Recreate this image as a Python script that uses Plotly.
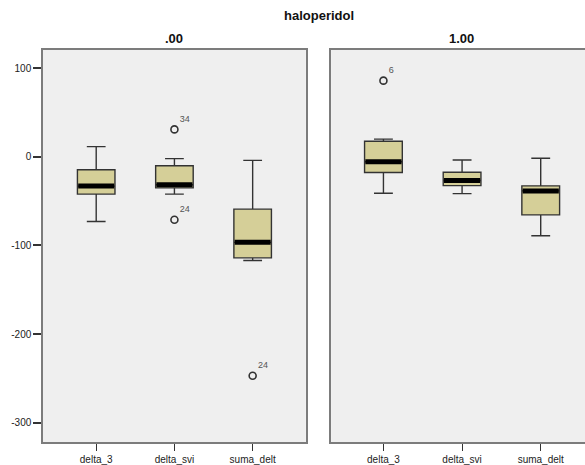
import plotly.graph_objects as go

# ---- data ----
categories = ["delta_3", "delta_svi", "suma_delt"]
panel_titles = [".00", "1.00"]
main_title = "haloperidol"

# haloperidol = .00
p0_lower = [-73, -42, -117]
p0_q1 = [-42, -35, -114]
p0_median = [-33, -31.5, -96.5]
p0_q3 = [-14.5, -10, -59]
p0_upper = [11.5, -2, -4]
p0_out_cat = [1, 1, 2]
p0_out_val = [31, -71, -247]
p0_out_lab = ["34", "24", "24"]

# haloperidol = 1.00
p1_lower = [-41, -41.5, -89]
p1_q1 = [-17.7, -32.5, -65.5]
p1_median = [-5.6, -26.7, -38.4]
p1_q3 = [17.7, -17.3, -32.7]
p1_upper = [20, -3.5, -1.5]
p1_out_cat = [0]
p1_out_val = [86]
p1_out_lab = ["6"]

yticks = [100, 0, -100, -200, -300]

BOX_W = 0.48
FILL = "#d5cf98"
EDGE = "#333333"
FRAME = "#7c7c7c"
PANEL_BG = "#efefef"

fig = go.Figure()

panels = [
    (p0_lower, p0_q1, p0_median, p0_q3, p0_upper, p0_out_cat, p0_out_val, p0_out_lab, "x", "y"),
    (p1_lower, p1_q1, p1_median, p1_q3, p1_upper, p1_out_cat, p1_out_val, p1_out_lab, "x2", "y2"),
]

for lo, q1, med, q3, up, oc, ov, ol, xa, ya in panels:
    for i in range(len(categories)):
        fig.add_trace(go.Box(
            x=[i], q1=[q1[i]], median=[med[i]], q3=[q3[i]],
            lowerfence=[lo[i]], upperfence=[up[i]],
            width=BOX_W, whiskerwidth=0.5,
            fillcolor=FILL, line=dict(color=EDGE, width=1.4),
            boxpoints=False, hoverinfo="skip",
            xaxis=xa, yaxis=ya, showlegend=False,
        ))
    # thick median bars
    mx, my = [], []
    for i in range(len(categories)):
        mx += [i - BOX_W / 2 + 0.01, i + BOX_W / 2 - 0.01, None]
        my += [med[i], med[i], None]
    fig.add_trace(go.Scatter(
        x=mx, y=my, mode="lines", line=dict(color="black", width=5),
        xaxis=xa, yaxis=ya, showlegend=False, hoverinfo="skip",
    ))
    # outliers
    fig.add_trace(go.Scatter(
        x=oc, y=ov, mode="markers+text", text=ol, textposition="top right",
        textfont=dict(family="Liberation Sans, Arial", size=9, color="#555555"),
        marker=dict(symbol="circle-open", size=7, color=EDGE, line=dict(width=1.6)),
        xaxis=xa, yaxis=ya, showlegend=False, hoverinfo="skip",
    ))

plot_l, plot_r, plot_t, plot_b = 42.7, 585, 50, 442
W, H = 585, 465
pw = plot_r - plot_l
ph = plot_b - plot_t

def px_to_xp(px):
    return (px - plot_l) / pw

def py_to_yp(py):
    return (plot_b - py) / ph

xaxis_common = dict(
    tickmode="array", tickvals=list(range(len(categories))), ticktext=categories,
    showgrid=False, zeroline=False, showline=True, linecolor=FRAME, linewidth=1.5,
    ticks="outside", ticklen=7, tickwidth=1.3, tickcolor="#333333",
    tickfont=dict(family="Liberation Sans, Arial", size=10, color="#222222"),
)

fig.update_layout(
    width=W, height=H,
    margin=dict(l=plot_l, r=W - plot_r, t=plot_t, b=H - plot_b),
    paper_bgcolor="white", plot_bgcolor=PANEL_BG,
    xaxis=dict(domain=[0, px_to_xp(305.7)], range=[-0.68, 2.68], mirror=True, **xaxis_common),
    xaxis2=dict(domain=[px_to_xp(331), 1], range=[-0.665, 2.563], mirror=True, **xaxis_common),
    yaxis=dict(
        range=[-321.8, 120.6], tickvals=yticks, ticktext=[str(v) for v in yticks],
        showgrid=False, zeroline=False, showline=True, mirror=True,
        linecolor=FRAME, linewidth=1.5,
        ticks="outside", ticklen=8, tickwidth=1.5, tickcolor="#333333",
        tickfont=dict(family="Liberation Sans, Arial", size=10, color="#222222"),
    ),
    yaxis2=dict(
        range=[-321.8, 120.6], anchor="x2", showticklabels=False, ticks="",
        showgrid=False, zeroline=False, showline=True, mirror=False,
        linecolor=FRAME, linewidth=1.5,
    ),
    annotations=[
        dict(text="<b>%s</b>" % main_title, x=px_to_xp(319), y=py_to_yp(15),
             xref="paper", yref="paper", showarrow=False, xanchor="center", yanchor="middle",
             font=dict(family="Liberation Sans, Arial", size=13, color="#111111")),
        dict(text="<b>%s</b>" % panel_titles[0], x=px_to_xp(174.2), y=py_to_yp(38),
             xref="paper", yref="paper", showarrow=False, xanchor="center", yanchor="middle",
             font=dict(family="Liberation Sans, Arial", size=13, color="#111111")),
        dict(text="<b>%s</b>" % panel_titles[1], x=px_to_xp(461.6), y=py_to_yp(38),
             xref="paper", yref="paper", showarrow=False, xanchor="center", yanchor="middle",
             font=dict(family="Liberation Sans, Arial", size=13, color="#111111")),
    ],
)

fig.write_html("out.html")
